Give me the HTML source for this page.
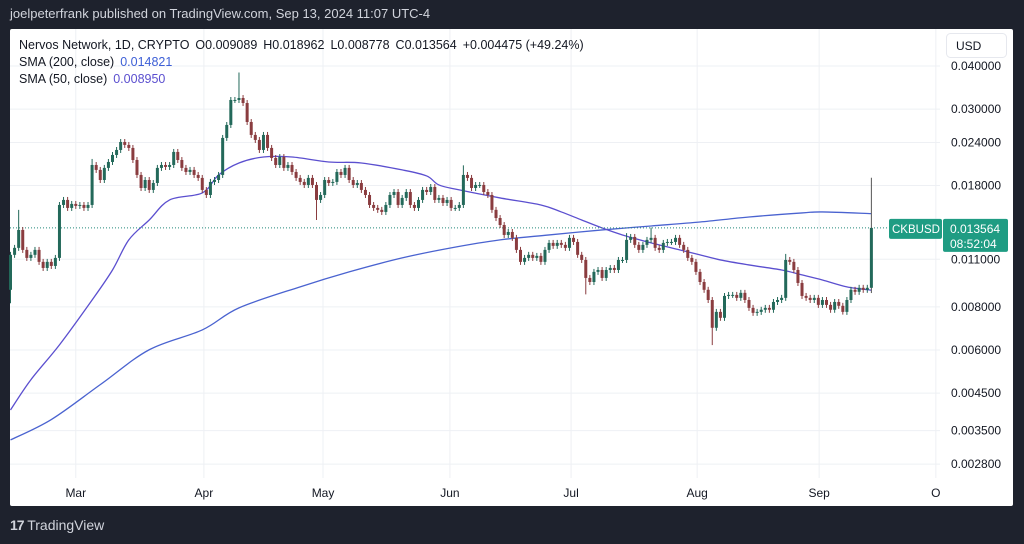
<!DOCTYPE html>
<html><head><meta charset="utf-8"><style>
html,body{margin:0;padding:0;width:1024px;height:544px;background:#1e222d;overflow:hidden;font-family:"Liberation Sans",sans-serif}
#hdr{position:absolute;left:10px;top:6px;color:#d1d4dc;font-size:13px}
#panel{position:absolute;left:10px;top:29px;width:1003px;height:477px;background:#fff;border-radius:2px}
#logo{position:absolute;left:10px;top:517px;color:#d1d4dc;font-size:14px}
svg{position:absolute;left:0;top:0}
</style></head><body>
<div id="hdr">joelpeterfrank published on TradingView.com, Sep 13, 2024 11:07 UTC-4</div>
<div id="panel"></div>
<div id="logo"><b style="letter-spacing:-1px">17</b> TradingView</div>
<svg id="chart" width="1024" height="544"></svg>
<script>
const closes=[.01133,.01187,.01338,.01171,.01110,.01133,.01171,.01081,.01038,.01081,
.01052,.01110,.01581,.01635,.01550,.01592,.01571,.01581,.01550,.01581,
.02065,.01998,.01868,.02025,.02107,.02208,.02283,.02408,.02361,.02314,
.02135,.01932,.01771,.01868,.01748,.01831,.02025,.02065,.02038,.02065,
.02253,.02135,.02025,.01971,.01998,.01932,.01894,.01748,.01690,.01844,
.01868,.01932,.02474,.02698,.03188,.03188,.03230,.03124,.02752,.02524,
.02441,.02283,.02524,.02314,.02164,.02065,.02178,.02025,.02065,.01971,
.01894,.01844,.01807,.01894,.01807,.01635,.01690,.01868,.01831,.01844,
.01971,.01932,.02025,.01868,.01807,.01831,.01748,.01690,.01581,.01550,
.01530,.01509,.01581,.01690,.01724,.01581,.01657,.01724,.01581,.01550,
.01635,.01748,.01724,.01783,.01635,.01657,.01602,.01635,.01550,.01550,
.01581,.01932,.01894,.01771,.01807,.01807,.01724,.01690,.01530,.01449,
.01383,.01294,.01320,.01269,.01171,.01081,.01110,.01133,.01110,.01125,
.01081,.01171,.01227,.01203,.01227,.01211,.01187,.01269,.01235,.01133,
.01095,.00971,.00945,.01011,.01024,.00971,.01024,.01038,.01024,.01095,
.01095,.01252,.01277,.01211,.01171,.01211,.01252,.01269,.01187,.01171,
.01227,.01235,.01235,.01269,.01211,.01171,.01110,.01081,.01011,.00945,
.00897,.00838,.00696,.00774,.00744,.00861,.00867,.00867,.00850,.00879,
.00838,.00795,.00769,.00774,.00785,.00795,.00785,.00827,.00838,.00850,
.01095,.01081,.01024,.00939,.00861,.00850,.00838,.00850,.00811,.00838,
.00811,.00785,.00827,.00806,.00774,.00838,.00897,.00885,.00909,.00897,
.00909,.013564];
const firstOpen=0.00897;
const wickHighDays=[2,20,56,111,151,157,190,211];
const wickHighVals=[.0153,.0215,.0383,.0206,.0131,.0136,.0114,.018962];
const wickLowDays=[0,75,141,172,204,211];
const wickLowVals=[.0082,.0143,.0087,.0062,.0076,.008778];
const sma50Days=[0,5,12,20,25,29,34,39,47,51,56,62,69,78,86,96,102,105,110,120,130,135,140,145,150,157,164,169,174,181,189,194,199,205,211];
const sma50Vals=[.00402,.00492,.00621,.00838,.01024,.01252,.01430,.01635,.01713,.01932,.02093,.02178,.02178,.02107,.02093,.01998,.01919,.01807,.01748,.01657,.01581,.01509,.01430,.01356,.01294,.01227,.01171,.01133,.01095,.01059,.01024,.00991,.00958,.00915,.00895];
const sma200Days=[0,10,22,34,47,56,71,83,96,108,120,132,145,157,169,181,194,199,211];
const sma200Vals=[.00329,.00377,.00476,.00601,.00686,.00795,.00915,.01011,.01110,.01187,.01252,.01294,.01338,.01374,.01411,.01459,.01499,.01509,.01492];
const priceTicks=[0.04,0.03,0.024,0.018,0.011,0.008,0.006,0.0045,0.0035,0.0028];
const priceTickLabels=["0.040000","0.030000","0.024000","0.018000","0.011000","0.008000","0.006000","0.004500","0.003500","0.002800"];
const monthDays=[16,47.4,76.6,107.7,137.4,168.3,198.2,226.8];
const monthLabels=["Mar","Apr","May","Jun","Jul","Aug","Sep","O"];
const lastPrice=0.013564;

const NS="http://www.w3.org/2000/svg";
const svg=document.getElementById('chart');
const Y=p=>66+Math.log(0.04/p)*149.7;
const X=i=>10.5+i*4.08;
function el(t,a,parent){const e=document.createElementNS(NS,t);for(const k in a)e.setAttribute(k,a[k]);(parent||svg).appendChild(e);return e;}

monthDays.forEach((d,i)=>{
 const g=el('line',{x1:X(d),x2:X(d),y1:29,y2:478,stroke:'#eef0f4','stroke-width':1});
 
 
 const t=el('text',{x:X(d),y:497,'text-anchor':'middle','font-size':12,fill:'#131722'});
 t.textContent=monthLabels[i];
 
 
});
priceTicks.forEach((p,i)=>{
 const g=el('line',{x1:10,x2:940,y1:Y(p),y2:Y(p),stroke:'#eef0f4','stroke-width':1});
 
 
 const t=el('text',{x:951,y:Y(p)+4,'font-size':12,fill:'#131722'});
 t.textContent=priceTickLabels[i];
 
 
});
function smooth(days,vals,color,name){
 const P=days.map((d,i)=>[X(d),Y(vals[i])]);
 let d='M'+P[0][0]+','+P[0][1];
 for(let i=0;i<P.length-1;i++){
  const p0=P[Math.max(0,i-1)],p1=P[i],p2=P[i+1],p3=P[Math.min(P.length-1,i+2)];
  const c1=[p1[0]+(p2[0]-p0[0])/6,p1[1]+(p2[1]-p0[1])/6];
  const c2=[p2[0]-(p3[0]-p1[0])/6,p2[1]-(p3[1]-p1[1])/6];
  d+=' C'+c1+' '+c2+' '+p2;
 }
 const l=el('path',{d:d,fill:'none',stroke:color,'stroke-width':1.3});
 
 
}
smooth(sma200Days,sma200Vals,'#4a63d0','sma-200-line');
smooth(sma50Days,sma50Vals,'#5b4fcf','sma-50-line');
const pl=el('line',{x1:10,x2:889,y1:Y(lastPrice),y2:Y(lastPrice),stroke:'#22897a','stroke-width':1,'stroke-dasharray':'1,2'});


closes.forEach((c,i)=>{
 const o=i?closes[i-1]:firstOpen;
 const up=c>=o;
 const col=up?'#23695a':'#8a3c3f';
 let hi=Math.max(o,c)*1.02,lo=Math.min(o,c)*0.98;
 const hk=wickHighDays.indexOf(i);if(hk>=0)hi=wickHighVals[hk];
 const lk=wickLowDays.indexOf(i);if(lk>=0)lo=wickLowVals[lk];
 const w=el('line',{x1:X(i),x2:X(i),y1:Y(hi),y2:Y(lo),stroke:i==211?'#555':col,'stroke-width':1});
 
 
 const top=Y(Math.max(o,c)),bot=Y(Math.min(o,c));
 const b=el('rect',{x:X(i)-1.5,y:top,width:3,height:Math.max(1,bot-top),fill:col});
 
 
});
const yl=Y(lastPrice);
const s=el('rect',{x:889,y:yl-9,width:53,height:20,fill:'#1f9c83',rx:2});


const st=el('text',{x:892,y:yl+5,'font-size':11.5,fill:'#fff'});
st.textContent='CKBUSD';


const pb=el('rect',{x:943,y:yl-9,width:65,height:33,fill:'#1f9c83',rx:2});


const pt=el('text',{x:950,y:yl+5,'font-size':12,fill:'#fff'});
pt.textContent='0.013564';


const ct=el('text',{x:950,y:yl+20,'font-size':12,fill:'#fff'});
ct.textContent='08:52:04';


const ub=el('rect',{x:946.5,y:33.5,width:60,height:24,fill:'#fff',stroke:'#e6e8ee',rx:4});


const ut=el('text',{x:956,y:50,'font-size':12,fill:'#131722'});
ut.textContent='USD';


const l1=el('text',{x:19,y:49,'font-size':12.5,fill:'#131722'});


['Nervos Network, 1D, CRYPTO','O0.009089','H0.018962','L0.008778','C0.013564','+0.004475 (+49.24%)'].forEach((s,i)=>{const t=el('tspan',{dx:i?6:0},l1);t.textContent=s;});
[['SMA (200, close)','0.014821','#3d5fd6','legend-sma-200'],['SMA (50, close)','0.008950','#5b4fcf','legend-sma-50']].forEach((r,i)=>{
 const t=el('text',{x:19,y:66+i*17,'font-size':12.5,fill:'#131722'});
 
 
 const a=el('tspan',{},t);a.textContent=r[0];
 const v=el('tspan',{fill:r[2],dx:6},t);v.textContent=r[1];
});
</script>
</body></html>
